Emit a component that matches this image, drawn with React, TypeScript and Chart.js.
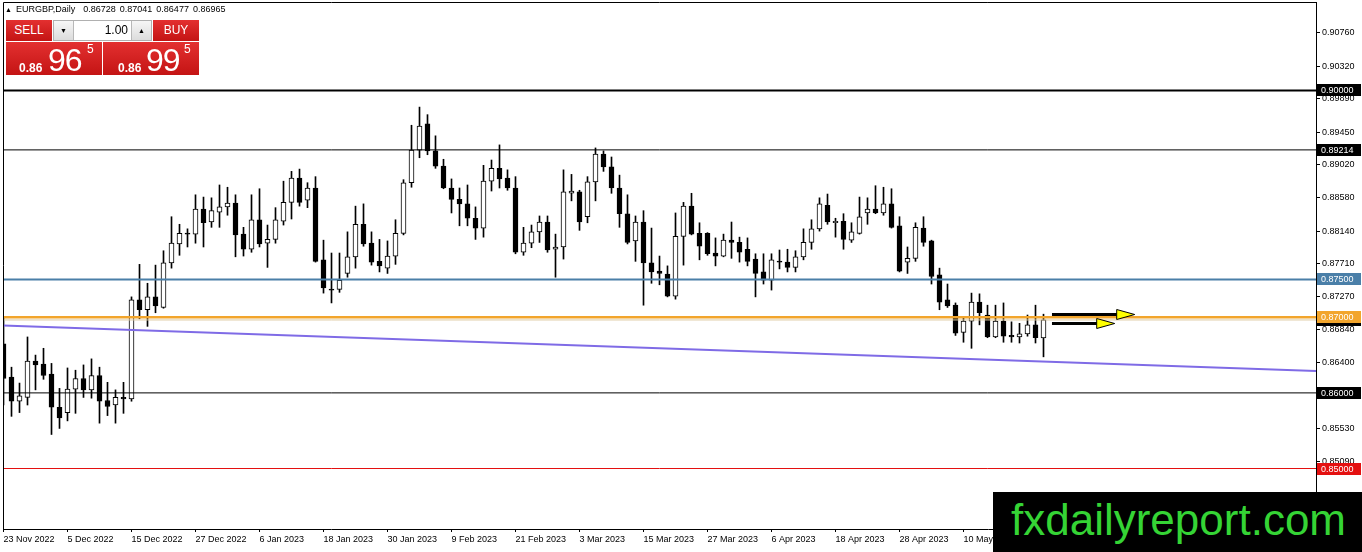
import React, { useEffect, useRef } from "react";
import { Chart, registerables } from "chart.js";

Chart.register(...registerables);

const FONT = '"Liberation Sans", Arial, sans-serif';

// daily EURGBP candles, 23 Nov 2022 .. 24 May 2023 (weekdays)
const opens = [
  0.8665, 0.8621, 0.8589, 0.8594, 0.8642, 0.8638, 0.8625, 0.8581, 0.8574, 0.8605,
  0.8619, 0.8604, 0.8623, 0.859, 0.8584, 0.8594, 0.8592, 0.8723, 0.871, 0.8727,
  0.8713, 0.8772, 0.8797, 0.8811, 0.881, 0.8843, 0.8826, 0.8839, 0.8846, 0.8851,
  0.881, 0.879, 0.8829, 0.8798, 0.8803, 0.8827, 0.8852, 0.8884, 0.8855, 0.8871,
  0.8776, 0.8737, 0.8737, 0.8758, 0.878, 0.8823, 0.8798, 0.8774, 0.8765, 0.8781,
  0.8811, 0.8878, 0.8921, 0.8956, 0.892, 0.89, 0.8871, 0.8856, 0.885, 0.8831,
  0.8818, 0.888, 0.8897, 0.8884, 0.8871, 0.8786, 0.8798, 0.8813, 0.8826, 0.879,
  0.8793, 0.8864, 0.8866, 0.8833, 0.8879, 0.8916, 0.8899, 0.8871, 0.8837, 0.8801,
  0.8826, 0.8772, 0.8761, 0.8757, 0.8728, 0.8807, 0.8847, 0.8811, 0.8811, 0.8785,
  0.8781, 0.8802, 0.8799, 0.879, 0.8777, 0.876, 0.8749, 0.8774, 0.8773, 0.8766,
  0.878, 0.8799, 0.8817, 0.8848, 0.8825, 0.8827, 0.8802, 0.8811, 0.8838, 0.8843,
  0.8838, 0.885, 0.8821, 0.8773, 0.8778, 0.8818, 0.8801, 0.8756, 0.8723, 0.8716,
  0.868, 0.8695, 0.872, 0.8703, 0.8674, 0.8695, 0.8676, 0.8674, 0.8678, 0.869,
  0.86728,
];
const highs = [
  0.8699, 0.8634, 0.8613, 0.8674, 0.865, 0.8659, 0.8639, 0.8606, 0.8633, 0.863,
  0.8637, 0.8645, 0.8634, 0.8614, 0.8604, 0.8614, 0.8727, 0.877, 0.8745, 0.8769,
  0.8788, 0.8833, 0.8823, 0.8817, 0.8862, 0.8859, 0.8858, 0.8875, 0.8872, 0.8862,
  0.8819, 0.8862, 0.887, 0.8822, 0.8845, 0.888, 0.8893, 0.8896, 0.8878, 0.8886,
  0.8802, 0.8785, 0.8785, 0.8813, 0.8847, 0.885, 0.8813, 0.8803, 0.8801, 0.8829,
  0.8882, 0.8954, 0.8978, 0.8968, 0.894, 0.8909, 0.8883, 0.8871, 0.8875, 0.8846,
  0.8901, 0.8908, 0.8928, 0.8895, 0.8886, 0.8819, 0.8822, 0.8834, 0.8834, 0.881,
  0.8895, 0.8889, 0.8868, 0.8886, 0.8924, 0.892, 0.8912, 0.8888, 0.8862, 0.8834,
  0.8841, 0.8818, 0.8781, 0.8768, 0.8838, 0.8852, 0.8864, 0.8825, 0.8812, 0.8805,
  0.881, 0.8826, 0.8806, 0.8805, 0.8784, 0.8784, 0.8784, 0.8789, 0.879, 0.8788,
  0.8817, 0.8829, 0.8858, 0.8863, 0.8831, 0.8837, 0.8825, 0.8859, 0.8858, 0.8874,
  0.8872, 0.887, 0.8833, 0.8793, 0.8825, 0.8833, 0.8802, 0.8765, 0.8744, 0.8719,
  0.8699, 0.8732, 0.8731, 0.8716, 0.8716, 0.8719, 0.8694, 0.8692, 0.8703, 0.8716,
  0.87041,
];
const lows = [
  0.8584, 0.8569, 0.8574, 0.8584, 0.8604, 0.8618, 0.8545, 0.8553, 0.8563, 0.8573,
  0.8594, 0.8593, 0.856, 0.857, 0.856, 0.8573, 0.8589, 0.8698, 0.8688, 0.8706,
  0.8712, 0.8765, 0.8782, 0.8793, 0.8798, 0.8793, 0.8819, 0.8819, 0.8835, 0.878,
  0.8781, 0.8786, 0.8793, 0.8766, 0.8798, 0.8822, 0.883, 0.8847, 0.8845, 0.8773,
  0.8732, 0.8719, 0.8733, 0.8753, 0.8765, 0.8794, 0.8769, 0.876, 0.8758, 0.877,
  0.8809, 0.8872, 0.8911, 0.8915, 0.8897, 0.887, 0.8838, 0.8821, 0.8821, 0.8803,
  0.8806, 0.8867, 0.8871, 0.8868, 0.8784, 0.8782, 0.8792, 0.8799, 0.8786, 0.8753,
  0.8777, 0.8854, 0.8815, 0.8825, 0.8854, 0.8893, 0.8864, 0.8819, 0.8797, 0.8774,
  0.8716, 0.8745, 0.8743, 0.8727, 0.8724, 0.8769, 0.8809, 0.8776, 0.8782, 0.8768,
  0.878, 0.8778, 0.8773, 0.8768, 0.8727, 0.8744, 0.8736, 0.8764, 0.876, 0.876,
  0.8776, 0.879, 0.8814, 0.8823, 0.8806, 0.879, 0.8799, 0.881, 0.8823, 0.8837,
  0.8835, 0.8818, 0.876, 0.8758, 0.8774, 0.8794, 0.8744, 0.871, 0.8713, 0.8676,
  0.8667, 0.8659, 0.869, 0.8673, 0.8673, 0.8667, 0.8667, 0.8666, 0.8675, 0.8666,
  0.86477,
];
const closes = [
  0.8619, 0.8589, 0.8596, 0.8642, 0.8637, 0.8623, 0.8581, 0.8567, 0.8605, 0.8619,
  0.8604, 0.8623, 0.8589, 0.8582, 0.8594, 0.8592, 0.8723, 0.871, 0.8727, 0.8715,
  0.8772, 0.8798, 0.8811, 0.881, 0.8843, 0.8825, 0.8841, 0.8846, 0.8851, 0.8809,
  0.879, 0.8829, 0.8797, 0.8803, 0.8829, 0.8852, 0.8884, 0.8852, 0.8871, 0.8774,
  0.8739, 0.8736, 0.8749, 0.878, 0.8823, 0.8797, 0.8773, 0.8768, 0.8781, 0.8811,
  0.8878, 0.8921, 0.8953, 0.892, 0.89, 0.8871, 0.8856, 0.885, 0.8831, 0.8818,
  0.888, 0.8897, 0.8883, 0.8871, 0.8786, 0.8798, 0.8813, 0.8826, 0.8789, 0.8793,
  0.8866, 0.8867, 0.8826, 0.8879, 0.8916, 0.8899, 0.8871, 0.8837, 0.8799, 0.8826,
  0.8772, 0.876, 0.8758, 0.8728, 0.8807, 0.8847, 0.881, 0.8794, 0.8784, 0.8781,
  0.8802, 0.8799, 0.8786, 0.8774, 0.8758, 0.8749, 0.8776, 0.8773, 0.8766, 0.878,
  0.8799, 0.8817, 0.885, 0.8826, 0.8827, 0.8803, 0.8813, 0.8833, 0.8843, 0.8838,
  0.885, 0.8819, 0.8761, 0.8778, 0.8819, 0.8799, 0.8754, 0.872, 0.8715, 0.8679,
  0.8695, 0.872, 0.8706, 0.8674, 0.8695, 0.8675, 0.8674, 0.8678, 0.869, 0.8673,
  0.86965,
];

const xTickIndex = [0, 8, 16, 24, 32, 40, 48, 56, 64, 72, 80, 88, 96, 104, 112, 120, 128];
const xTickLabels = [
  "23 Nov 2022", "5 Dec 2022", "15 Dec 2022", "27 Dec 2022", "6 Jan 2023",
  "18 Jan 2023", "30 Jan 2023", "9 Feb 2023", "21 Feb 2023", "3 Mar 2023",
  "15 Mar 2023", "27 Mar 2023", "6 Apr 2023", "18 Apr 2023", "28 Apr 2023",
  "10 May 2023", "22 May 2023",
];
const yTickValues = [
  0.9076, 0.9032, 0.8989, 0.8945, 0.8902, 0.8858, 0.8814, 0.8771, 0.8727,
  0.8684, 0.864, 0.8596, 0.8553, 0.8509,
];

// horizontal levels drawn on the chart
const levelValues = [0.9, 0.89214, 0.875, 0.87, 0.86, 0.85];
const levelColors = ["#000000", "#000000", "#4a7fa8", "#f2a52c", "#000000", "#e41010"];
const levelWidths = [2, 1, 2, 2.5, 1, 1];
const bidPrice = 0.86965;
const trendValues = [0.8689, 0.8629];

// the two yellow arrows
const arrowFrom = [131.06, 131.06];
const arrowTo = [141.4, 138.9];
const arrowPrice = [0.8704, 0.8692];

const X_MIN = -0.0625;
const X_MAX = 164.0625;
const Y_MIN = 0.842;
const Y_MAX = 0.9117;

const overlayPlugin = {
  id: "mtOverlay",
  afterDatasetsDraw(chart: any) {
    const { ctx, scales } = chart;
    const xs = scales.x;
    const ys = scales.y;
    ctx.save();
    arrowPrice.forEach((p, i) => {
      const py = Math.round(ys.getPixelForValue(p)) + 0.5;
      const x0 = xs.getPixelForValue(arrowFrom[i]);
      const x1 = xs.getPixelForValue(arrowTo[i]);
      const head = 18;
      ctx.strokeStyle = "#000";
      ctx.lineWidth = 3;
      ctx.beginPath();
      ctx.moveTo(x0, py);
      ctx.lineTo(x1 - head + 1, py);
      ctx.stroke();
      ctx.beginPath();
      ctx.moveTo(x1 - head, py - 5);
      ctx.lineTo(x1, py);
      ctx.lineTo(x1 - head, py + 5);
      ctx.closePath();
      ctx.fillStyle = "#ffff00";
      ctx.fill();
      ctx.lineWidth = 1;
      ctx.stroke();
    });
    ctx.restore();
  },
  afterDraw(chart: any) {
    const { ctx, chartArea: a, scales } = chart;
    const ys = scales.y;
    ctx.save();
    ctx.strokeStyle = "#000";
    ctx.lineWidth = 1;
    ctx.beginPath();
    ctx.moveTo(a.left + 0.5, a.bottom);
    ctx.lineTo(a.left + 0.5, a.top + 0.5);
    ctx.lineTo(a.right, a.top + 0.5);
    ctx.stroke();

    const tags = [{ v: bidPrice, c: "#000000" }].concat(
      levelValues.map((v, i) => ({ v, c: levelColors[i] }))
    );
    ctx.font = "9px " + FONT;
    ctx.textBaseline = "middle";
    ctx.textAlign = "left";
    tags.forEach((t) => {
      const py = Math.round(ys.getPixelForValue(t.v));
      ctx.fillStyle = t.c;
      ctx.fillRect(a.right + 1, py - 6, 44, 12);
      ctx.fillStyle = "#ffffff";
      ctx.fillText(t.v.toFixed(5), a.right + 5, py + 0.5);
    });
    ctx.restore();
  },
};

const CandleChart: React.FC = () => {
  const canvasRef = useRef<HTMLCanvasElement | null>(null);

  useEffect(() => {
    if (!canvasRef.current) return;
    const idx = closes.map((_, i) => i);

    const lineSet = (values: number[], color: string, width: number) => ({
      type: "line" as const,
      data: [
        { x: X_MIN, y: values[0] },
        { x: X_MAX, y: values[1] },
      ],
      borderColor: color,
      borderWidth: width,
      pointRadius: 0,
      fill: false,
      order: 0,
    });

    const datasets: any[] = [
      {
        type: "bar",
        data: idx.map((i) => ({ x: i, y: [lows[i], highs[i]] })),
        backgroundColor: "#000000",
        barThickness: 1,
        grouped: false,
        order: 2,
      },
      {
        type: "bar",
        data: idx.map((i) => ({ x: i, y: [opens[i], closes[i]] })),
        backgroundColor: idx.map((i) => (closes[i] >= opens[i] ? "#ffffff" : "#000000")),
        borderColor: "#000000",
        borderWidth: 1,
        borderSkipped: false,
        barThickness: 5,
        minBarLength: 1,
        grouped: false,
        order: 1,
      },
      lineSet([bidPrice, bidPrice], "#dcc9a0", 1),
      lineSet(trendValues, "#7f6be6", 2),
      ...levelValues.map((v, i) => lineSet([v, v], levelColors[i], levelWidths[i])),
    ];

    const chart = new Chart(canvasRef.current, {
      type: "bar",
      data: { datasets },
      options: {
        responsive: false,
        animation: false,
        devicePixelRatio: 1,
        events: [],
        layout: { padding: { left: 3, top: 2, right: 0, bottom: 0 } },
        plugins: { legend: { display: false }, tooltip: { enabled: false } },
        scales: {
          x: {
            type: "linear",
            min: X_MIN,
            max: X_MAX,
            offset: false,
            afterBuildTicks: (axis: any) => {
              axis.ticks = xTickIndex.map((v) => ({ value: v }));
            },
            afterFit: (axis: any) => {
              axis.height = 23;
              axis.paddingLeft = 0;
              axis.paddingRight = 0;
            },
            grid: { display: true, drawOnChartArea: false, tickLength: 3, color: "#000", offset: false },
            border: { display: true, color: "#000", width: 1 },
            ticks: {
              autoSkip: false,
              maxRotation: 0,
              align: "start",
              padding: 2,
              color: "#000",
              font: { family: FONT, size: 9 },
              callback: (v: any) => xTickLabels[xTickIndex.indexOf(Number(v))] ?? "",
            },
          },
          y: {
            type: "linear",
            position: "right",
            min: Y_MIN,
            max: Y_MAX,
            afterBuildTicks: (axis: any) => {
              axis.ticks = yTickValues.map((v) => ({ value: v }));
            },
            afterFit: (axis: any) => {
              axis.width = 46;
              axis.paddingTop = 0;
              axis.paddingBottom = 0;
            },
            grid: { display: true, drawOnChartArea: false, tickLength: 4, color: "#000" },
            border: { display: true, color: "#000", width: 1 },
            ticks: {
              padding: 2,
              color: "#000",
              font: { family: FONT, size: 9 },
              callback: (v: any) => Number(v).toFixed(5),
            },
          },
        },
      },
      plugins: [overlayPlugin],
    });

    return () => chart.destroy();
  }, []);

  return <canvas ref={canvasRef} width={1362} height={552} style={{ display: "block" }} />;
};

const red = "linear-gradient(180deg, #e33030 0%, #c41414 100%)";

const PriceBox: React.FC<{ left: number; big: string; capX: number; bigX: number; supX: number }> = ({
  left, big, capX, bigX, supX,
}) => (
  <div style={{ position: "absolute", left, top: 42, width: 96, height: 33, background: red }}>
    <span style={{ position: "absolute", left: capX, top: 20, font: "bold 12px " + FONT, lineHeight: 1, color: "#fff" }}>0.86</span>
    <span style={{ position: "absolute", left: bigX, top: 2, font: "32px " + FONT, lineHeight: 1, color: "#fff", letterSpacing: -1 }}>{big}</span>
    <span style={{ position: "absolute", left: supX, top: 1, font: "12px " + FONT, lineHeight: 1, color: "#fff" }}>5</span>
  </div>
);

const App: React.FC = () => (
  <div style={{ position: "absolute", left: 0, top: 0, width: 1362, height: 552, background: "#fff", overflow: "hidden" }}>
    <CandleChart />
    <div style={{ position: "absolute", left: 5, top: 5, font: "9px " + FONT, lineHeight: 1, color: "#000", whiteSpace: "pre", wordSpacing: 1.5 }}>
      <span style={{ fontSize: 7 }}>▲</span> EURGBP,Daily  0.86728 0.87041 0.86477 0.86965
    </div>
    <div style={{ position: "absolute", left: 6, top: 20, width: 46, height: 21, background: red, color: "#fff", font: "12px " + FONT, lineHeight: "21px", textAlign: "center" }}>SELL</div>
    <div style={{ position: "absolute", left: 53, top: 20, width: 99, height: 21, boxSizing: "border-box", border: "1px solid #b0b0b0", background: "#fff" }}>
      <div style={{ position: "absolute", left: 0, top: 0, width: 19, height: 19, background: "linear-gradient(#f6f6f6, #dcdcdc)", borderRight: "1px solid #b8b8b8", font: "7px " + FONT, lineHeight: "19px", textAlign: "center", color: "#000" }}>▼</div>
      <div style={{ position: "absolute", right: 23, top: 0, height: 19, font: "12px " + FONT, lineHeight: "19px", color: "#000" }}>1.00</div>
      <div style={{ position: "absolute", right: 0, top: 0, width: 19, height: 19, background: "linear-gradient(#f6f6f6, #dcdcdc)", borderLeft: "1px solid #b8b8b8", font: "7px " + FONT, lineHeight: "19px", textAlign: "center", color: "#000" }}>▲</div>
    </div>
    <div style={{ position: "absolute", left: 153, top: 20, width: 46, height: 21, background: red, color: "#fff", font: "12px " + FONT, lineHeight: "21px", textAlign: "center" }}>BUY</div>
    <PriceBox left={6} big="96" capX={13} bigX={42} supX={81} />
    <PriceBox left={103} big="99" capX={15} bigX={43} supX={81} />
    <div style={{ position: "absolute", left: 993, top: 492, width: 369, height: 60, background: "#000" }}>
      <span style={{ position: "absolute", left: 18, top: 6, font: "44px " + FONT, lineHeight: 1, color: "#35d435", whiteSpace: "nowrap" }}>fxdailyreport.com</span>
    </div>
  </div>
);

export default App;
